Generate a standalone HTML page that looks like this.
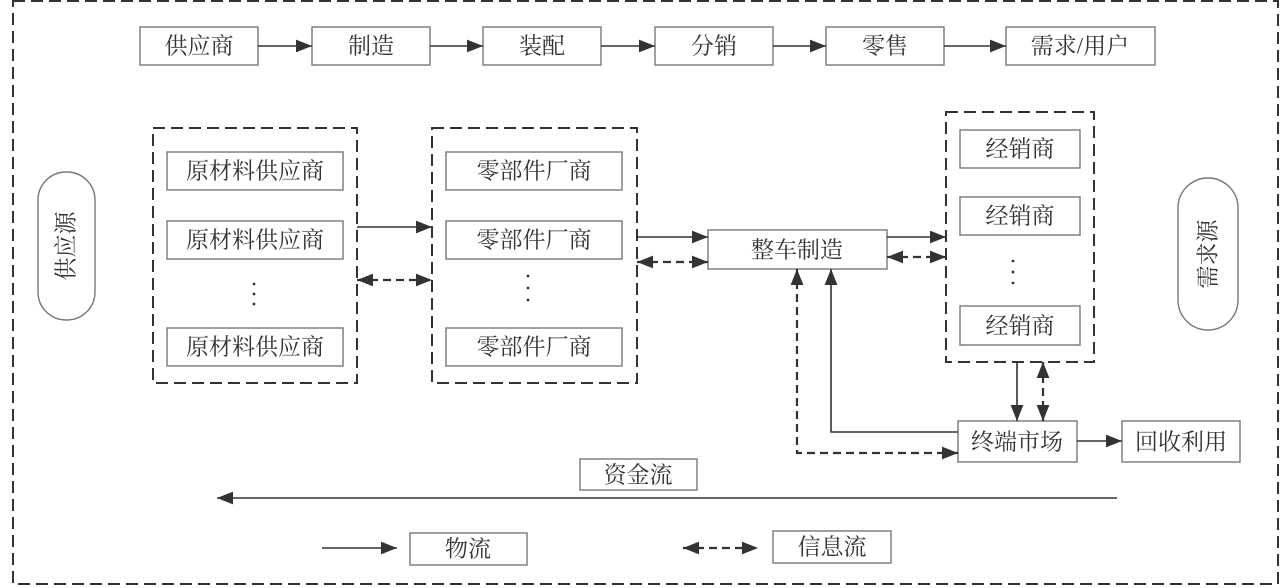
<!DOCTYPE html>
<html><head><meta charset="utf-8"><style>
html,body{margin:0;padding:0;background:#fff;}
svg{display:block}
text{font-family:"Liberation Serif","Noto Serif CJK SC",serif;font-size:23px;fill:#333;text-anchor:middle;dominant-baseline:central;}
</style></head><body>
<svg width="1284" height="588" viewBox="0 0 1284 588" xmlns="http://www.w3.org/2000/svg">
<defs>
<marker id="b" viewBox="0 0 10 10" refX="10" refY="5" markerWidth="16" markerHeight="16" markerUnits="userSpaceOnUse" orient="auto-start-reverse"><path d="M0,1L10,5L0,9z" fill="#333"/></marker>
</defs>
<g fill="none" stroke="#333" stroke-width="2" stroke-dasharray="12,6">
<rect x="13" y="1" width="1265" height="583"/>
<rect x="153" y="128" width="204" height="255"/>
<rect x="432" y="128" width="205" height="255"/>
<rect x="946" y="112" width="148" height="250"/>
</g>
<g fill="#fff" stroke="#777" stroke-width="1.4">
<rect x="140" y="27" width="118" height="38"/>
<rect x="312" y="27" width="118" height="38"/>
<rect x="483" y="27" width="118" height="38"/>
<rect x="655" y="27" width="118" height="38"/>
<rect x="826" y="27" width="118" height="38"/>
<rect x="1006" y="27" width="149" height="38"/>
<rect x="167" y="152" width="176" height="38"/>
<rect x="167" y="221" width="176" height="38"/>
<rect x="167" y="328" width="176" height="38"/>
<rect x="446" y="152" width="176" height="38"/>
<rect x="446" y="221" width="176" height="38"/>
<rect x="446" y="328" width="176" height="38"/>
<rect x="708" y="230" width="179" height="39"/>
<rect x="960" y="130" width="120" height="38"/>
<rect x="960" y="197" width="120" height="38"/>
<rect x="960" y="306" width="120" height="39"/>
<rect x="958" y="421" width="119" height="41"/>
<rect x="1122" y="421" width="118" height="41"/>
<rect x="580" y="459" width="117" height="31"/>
<rect x="410" y="533" width="117" height="32"/>
<rect x="773" y="531" width="118" height="32"/>
<rect x="38" y="172" width="57" height="148" rx="28"/>
<rect x="1178" y="178" width="60" height="152" rx="30"/>
</g>
<g stroke="#333" stroke-width="1.6" fill="none" marker-end="url(#b)">
<path d="M258 46H312"/><path d="M430 46H483"/><path d="M601 46H655"/><path d="M773 46H826"/><path d="M944 46H1006"/>
<path d="M357 227H432"/>
<path d="M637 237H708"/>
<path d="M887 237H946"/>
<path d="M1017 362V421"/>
<path d="M1077 441H1122"/>
<path d="M958 432H831V269"/>
<path d="M1117 498H217"/>
<path d="M322 548H397"/>
</g>
<g stroke="#333" stroke-width="2.2" fill="none" stroke-dasharray="8,5" marker-end="url(#b)" marker-start="url(#b)">
<path d="M357 280H432"/>
<path d="M637 262H708"/>
<path d="M887 257H946"/>
<path d="M1043 362V421"/>
<path d="M683 548H758"/>
</g>
<path d="M958 453H797V269" stroke="#333" stroke-width="2.2" fill="none" stroke-dasharray="8,5" marker-end="url(#b)" marker-start="url(#b)"/>
<text x="199" y="46">供应商</text><text x="371" y="46">制造</text><text x="542" y="46">装配</text>
<text x="714" y="46">分销</text><text x="885" y="46">零售</text><text x="1080" y="46">需求/用户</text>
<text x="255" y="171">原材料供应商</text><text x="255" y="240">原材料供应商</text><text x="255" y="347">原材料供应商</text>
<text x="534" y="171">零部件厂商</text><text x="534" y="240">零部件厂商</text><text x="534" y="347">零部件厂商</text>
<text x="797" y="250">整车制造</text>
<text x="1020" y="149">经销商</text><text x="1020" y="216">经销商</text><text x="1020" y="326">经销商</text>
<text x="1017" y="442">终端市场</text><text x="1181" y="442">回收利用</text>
<text x="638" y="475">资金流</text><text x="468" y="549">物流</text><text x="832" y="547">信息流</text>
<text transform="translate(66 246) rotate(-90)">供应源</text>
<text transform="translate(1208 254) rotate(-90)">需求源</text>
<g fill="#333"><circle cx="254" cy="284" r="1.4"/><circle cx="254" cy="294" r="1.4"/><circle cx="254" cy="304" r="1.4"/>
<circle cx="528" cy="276" r="1.4"/><circle cx="528" cy="288" r="1.4"/><circle cx="528" cy="300" r="1.4"/>
<circle cx="1013" cy="261" r="1.4"/><circle cx="1013" cy="272" r="1.4"/><circle cx="1013" cy="283" r="1.4"/></g>
</svg>
</body></html>
